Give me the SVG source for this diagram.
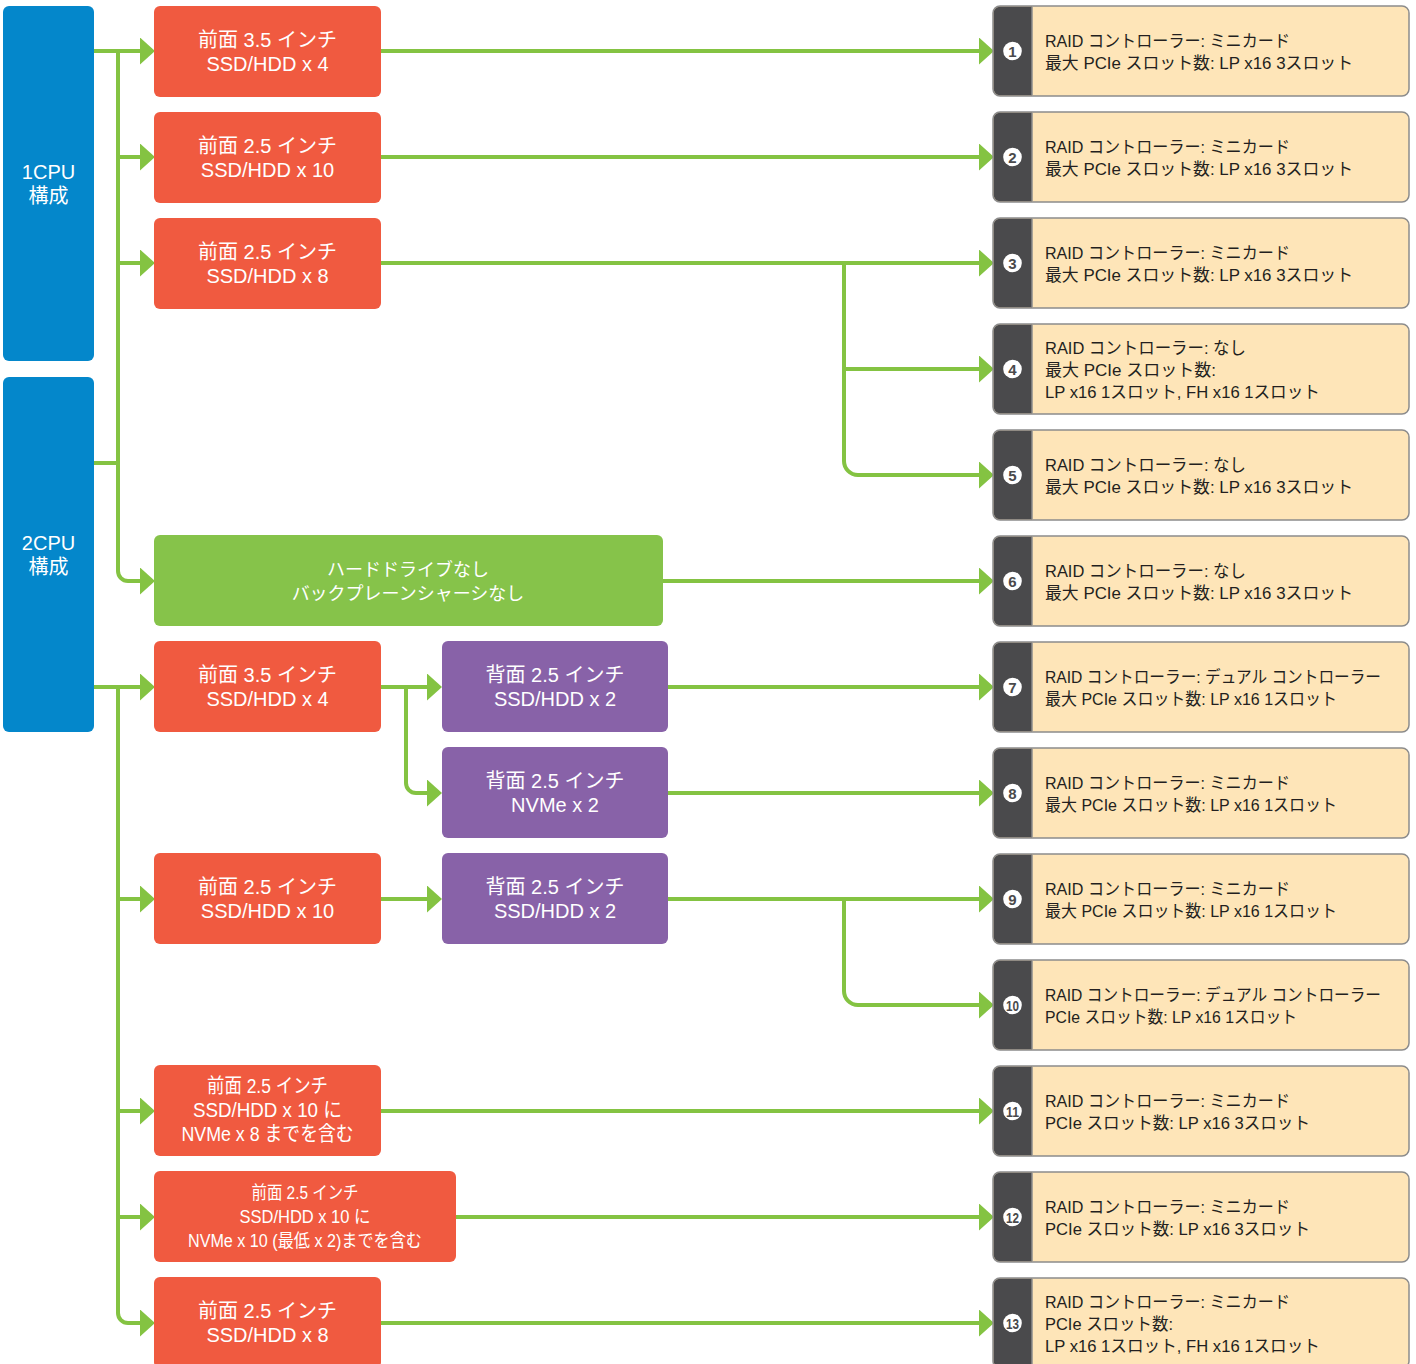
<svg xmlns="http://www.w3.org/2000/svg" width="1416" height="1364" viewBox="0 0 1416 1364">
<style>
.cpu{fill:#0487CB}
.fr{fill:#F05A40}
.bk{fill:#8862A8}
.gn{fill:#86C34A}
.t{font-family:"Liberation Sans","Noto Sans CJK JP",sans-serif;font-size:20px;fill:#FFFFFF;text-anchor:middle}
.tg{font-family:"Liberation Sans","Noto Sans CJK JP",sans-serif;font-size:18px;fill:#FFFFFF;text-anchor:middle}
.r{font-family:"Liberation Sans","Noto Sans CJK JP",sans-serif;font-size:17px;fill:#231F20}
.num{font-family:"Liberation Sans","Noto Sans CJK JP",sans-serif;font-size:15px;font-weight:bold;fill:#4A4A4C;text-anchor:middle}
.c{fill:none;stroke:#84C342;stroke-width:4}
.rb{fill:#FEE5B8;stroke:#8C8C8C;stroke-width:1.5}
.rd{fill:#4A4A4C}
.sep{stroke:#8C8C8C;stroke-width:1.5}
.dot{fill:#FFFFFF}
</style>
<defs>
<marker id="ah" viewBox="0 0 15 27" refX="0" refY="13.5" markerWidth="15" markerHeight="27" markerUnits="userSpaceOnUse" orient="auto">
<path d="M0,0 L15,13.5 L0,27 Z" fill="#84C342"/>
</marker>
<g id="res">
<rect class="rb" x="0" y="0" width="416" height="90" rx="7"/>
<path class="rd" d="M7,0.75 H39 V89.25 H7 A6.25,6.25 0 0 1 0.75,83 V7 A6.25,6.25 0 0 1 7,0.75 Z"/>
<line class="sep" x1="39" y1="0.75" x2="39" y2="89.25"/>
<circle class="dot" cx="19.5" cy="45" r="9.3"/>
</g>
</defs>

<g id="connectors">
<path class="c" d="M93,51 H140" marker-end="url(#ah)"/>
<path class="c" d="M118,51 V571 A10,10 0 0 0 128,581 H140" marker-end="url(#ah)"/>
<path class="c" d="M118,157 H140" marker-end="url(#ah)"/>
<path class="c" d="M118,263 H140" marker-end="url(#ah)"/>
<path class="c" d="M93,463 H118"/>
<path class="c" d="M381,51 H979" marker-end="url(#ah)"/>
<path class="c" d="M381,157 H979" marker-end="url(#ah)"/>
<path class="c" d="M381,263 H979" marker-end="url(#ah)"/>
<path class="c" d="M844,263 V461 A14,14 0 0 0 858,475 H979" marker-end="url(#ah)"/>
<path class="c" d="M844,369 H979" marker-end="url(#ah)"/>
<path class="c" d="M663,581 H979" marker-end="url(#ah)"/>
<path class="c" d="M93,687 H140" marker-end="url(#ah)"/>
<path class="c" d="M118,687 V1313 A10,10 0 0 0 128,1323 H140" marker-end="url(#ah)"/>
<path class="c" d="M118,899 H140" marker-end="url(#ah)"/>
<path class="c" d="M118,1111 H140" marker-end="url(#ah)"/>
<path class="c" d="M118,1217 H140" marker-end="url(#ah)"/>
<path class="c" d="M381,687 H427" marker-end="url(#ah)"/>
<path class="c" d="M406,687 V783 A10,10 0 0 0 416,793 H427" marker-end="url(#ah)"/>
<path class="c" d="M668,687 H979" marker-end="url(#ah)"/>
<path class="c" d="M668,793 H979" marker-end="url(#ah)"/>
<path class="c" d="M381,899 H427" marker-end="url(#ah)"/>
<path class="c" d="M668,899 H979" marker-end="url(#ah)"/>
<path class="c" d="M844,899 V991 A14,14 0 0 0 858,1005 H979" marker-end="url(#ah)"/>
<path class="c" d="M381,1111 H979" marker-end="url(#ah)"/>
<path class="c" d="M456,1217 H979" marker-end="url(#ah)"/>
<path class="c" d="M381,1323 H979" marker-end="url(#ah)"/>
</g>

<g id="cpu1"><rect class="cpu" x="3" y="6" width="91" height="355" rx="6"/>
<text class="t" x="48.5" y="179">1CPU</text><text class="t" x="48.5" y="203">構成</text></g>
<g id="cpu2"><rect class="cpu" x="3" y="377" width="91" height="355" rx="6"/>
<text class="t" x="48.5" y="550">2CPU</text><text class="t" x="48.5" y="574">構成</text></g>

<g id="f1"><rect class="fr" x="154" y="6" width="227" height="91" rx="6"/>
<text class="t" x="267.5" y="47">前面 3.5 インチ</text><text class="t" x="267.5" y="71">SSD/HDD x 4</text></g>
<g id="f2"><rect class="fr" x="154" y="112" width="227" height="91" rx="6"/>
<text class="t" x="267.5" y="153">前面 2.5 インチ</text><text class="t" x="267.5" y="177">SSD/HDD x 10</text></g>
<g id="f3"><rect class="fr" x="154" y="218" width="227" height="91" rx="6"/>
<text class="t" x="267.5" y="259">前面 2.5 インチ</text><text class="t" x="267.5" y="283">SSD/HDD x 8</text></g>
<g id="nodrive"><rect class="gn" x="154" y="535" width="509" height="91" rx="6"/>
<text class="tg" x="408" y="576">ハードドライブなし</text><text class="tg" x="408" y="600">バックプレーンシャーシなし</text></g>
<g id="f4"><rect class="fr" x="154" y="641" width="227" height="91" rx="6"/>
<text class="t" x="267.5" y="682">前面 3.5 インチ</text><text class="t" x="267.5" y="706">SSD/HDD x 4</text></g>
<g id="b1"><rect class="bk" x="442" y="641" width="226" height="91" rx="6"/>
<text class="t" x="555" y="682">背面 2.5 インチ</text><text class="t" x="555" y="706">SSD/HDD x 2</text></g>
<g id="b2"><rect class="bk" x="442" y="747" width="226" height="91" rx="6"/>
<text class="t" x="555" y="788">背面 2.5 インチ</text><text class="t" x="555" y="812">NVMe x 2</text></g>
<g id="f5"><rect class="fr" x="154" y="853" width="227" height="91" rx="6"/>
<text class="t" x="267.5" y="894">前面 2.5 インチ</text><text class="t" x="267.5" y="918">SSD/HDD x 10</text></g>
<g id="b3"><rect class="bk" x="442" y="853" width="226" height="91" rx="6"/>
<text class="t" x="555" y="894">背面 2.5 インチ</text><text class="t" x="555" y="918">SSD/HDD x 2</text></g>
<g id="f6"><rect class="fr" x="154" y="1065" width="227" height="91" rx="6"/>
<text class="t" x="267.5" y="1093" textLength="121" lengthAdjust="spacingAndGlyphs">前面 2.5 インチ</text>
<text class="t" x="267.5" y="1117" textLength="149" lengthAdjust="spacingAndGlyphs">SSD/HDD x 10 に</text>
<text class="t" x="267.5" y="1141" textLength="172" lengthAdjust="spacingAndGlyphs">NVMe x 8 までを含む</text></g>
<g id="f7"><rect class="fr" x="154" y="1171" width="302" height="91" rx="6"/>
<text class="tg" x="305" y="1199" textLength="107" lengthAdjust="spacingAndGlyphs">前面 2.5 インチ</text>
<text class="tg" x="305" y="1223" textLength="131" lengthAdjust="spacingAndGlyphs">SSD/HDD x 10 に</text>
<text class="tg" x="305" y="1247" textLength="234" lengthAdjust="spacingAndGlyphs">NVMe x 10 (最低 x 2)までを含む</text></g>
<g id="f8"><rect class="fr" x="154" y="1277" width="227" height="91" rx="6"/>
<text class="t" x="267.5" y="1318">前面 2.5 インチ</text><text class="t" x="267.5" y="1342">SSD/HDD x 8</text></g>

<g id="r1"><use href="#res" x="993" y="6"/><text class="num" x="1012.5" y="56.5">1</text>
<text class="r" x="1045" y="47" textLength="245" lengthAdjust="spacingAndGlyphs">RAID コントローラー: ミニカード</text><text class="r" x="1045" y="69" textLength="308" lengthAdjust="spacingAndGlyphs">最大 PCIe スロット数: LP x16 3スロット</text></g>
<g id="r2"><use href="#res" x="993" y="112"/><text class="num" x="1012.5" y="162.5">2</text>
<text class="r" x="1045" y="153" textLength="245" lengthAdjust="spacingAndGlyphs">RAID コントローラー: ミニカード</text><text class="r" x="1045" y="175" textLength="308" lengthAdjust="spacingAndGlyphs">最大 PCIe スロット数: LP x16 3スロット</text></g>
<g id="r3"><use href="#res" x="993" y="218"/><text class="num" x="1012.5" y="268.5">3</text>
<text class="r" x="1045" y="259" textLength="245" lengthAdjust="spacingAndGlyphs">RAID コントローラー: ミニカード</text><text class="r" x="1045" y="281" textLength="308" lengthAdjust="spacingAndGlyphs">最大 PCIe スロット数: LP x16 3スロット</text></g>
<g id="r4"><use href="#res" x="993" y="324"/><text class="num" x="1012.5" y="374.5">4</text>
<text class="r" x="1045" y="354" textLength="201" lengthAdjust="spacingAndGlyphs">RAID コントローラー: なし</text><text class="r" x="1045" y="376" textLength="171" lengthAdjust="spacingAndGlyphs">最大 PCIe スロット数:</text><text class="r" x="1045" y="398" textLength="275" lengthAdjust="spacingAndGlyphs">LP x16 1スロット, FH x16 1スロット</text></g>
<g id="r5"><use href="#res" x="993" y="430"/><text class="num" x="1012.5" y="480.5">5</text>
<text class="r" x="1045" y="471" textLength="201" lengthAdjust="spacingAndGlyphs">RAID コントローラー: なし</text><text class="r" x="1045" y="493" textLength="308" lengthAdjust="spacingAndGlyphs">最大 PCIe スロット数: LP x16 3スロット</text></g>
<g id="r6"><use href="#res" x="993" y="536"/><text class="num" x="1012.5" y="586.5">6</text>
<text class="r" x="1045" y="577" textLength="201" lengthAdjust="spacingAndGlyphs">RAID コントローラー: なし</text><text class="r" x="1045" y="599" textLength="308" lengthAdjust="spacingAndGlyphs">最大 PCIe スロット数: LP x16 3スロット</text></g>
<g id="r7"><use href="#res" x="993" y="642"/><text class="num" x="1012.5" y="692.5">7</text>
<text class="r" x="1045" y="683" textLength="336" lengthAdjust="spacingAndGlyphs">RAID コントローラー: デュアル コントローラー</text><text class="r" x="1045" y="705" textLength="292" lengthAdjust="spacingAndGlyphs">最大 PCIe スロット数: LP x16 1スロット</text></g>
<g id="r8"><use href="#res" x="993" y="748"/><text class="num" x="1012.5" y="798.5">8</text>
<text class="r" x="1045" y="789" textLength="245" lengthAdjust="spacingAndGlyphs">RAID コントローラー: ミニカード</text><text class="r" x="1045" y="811" textLength="292" lengthAdjust="spacingAndGlyphs">最大 PCIe スロット数: LP x16 1スロット</text></g>
<g id="r9"><use href="#res" x="993" y="854"/><text class="num" x="1012.5" y="904.5">9</text>
<text class="r" x="1045" y="895" textLength="245" lengthAdjust="spacingAndGlyphs">RAID コントローラー: ミニカード</text><text class="r" x="1045" y="917" textLength="292" lengthAdjust="spacingAndGlyphs">最大 PCIe スロット数: LP x16 1スロット</text></g>
<g id="r10"><use href="#res" x="993" y="960"/><text class="num" x="1012.5" y="1010.5" textLength="13" lengthAdjust="spacingAndGlyphs">10</text>
<text class="r" x="1045" y="1001" textLength="336" lengthAdjust="spacingAndGlyphs">RAID コントローラー: デュアル コントローラー</text><text class="r" x="1045" y="1023" textLength="252" lengthAdjust="spacingAndGlyphs">PCIe スロット数: LP x16 1スロット</text></g>
<g id="r11"><use href="#res" x="993" y="1066"/><text class="num" x="1012.5" y="1116.5" textLength="13" lengthAdjust="spacingAndGlyphs">11</text>
<text class="r" x="1045" y="1107" textLength="245" lengthAdjust="spacingAndGlyphs">RAID コントローラー: ミニカード</text><text class="r" x="1045" y="1129" textLength="265" lengthAdjust="spacingAndGlyphs">PCIe スロット数: LP x16 3スロット</text></g>
<g id="r12"><use href="#res" x="993" y="1172"/><text class="num" x="1012.5" y="1222.5" textLength="13" lengthAdjust="spacingAndGlyphs">12</text>
<text class="r" x="1045" y="1213" textLength="245" lengthAdjust="spacingAndGlyphs">RAID コントローラー: ミニカード</text><text class="r" x="1045" y="1235" textLength="265" lengthAdjust="spacingAndGlyphs">PCIe スロット数: LP x16 3スロット</text></g>
<g id="r13"><use href="#res" x="993" y="1278"/><text class="num" x="1012.5" y="1328.5" textLength="13" lengthAdjust="spacingAndGlyphs">13</text>
<text class="r" x="1045" y="1308" textLength="245" lengthAdjust="spacingAndGlyphs">RAID コントローラー: ミニカード</text><text class="r" x="1045" y="1330" textLength="128" lengthAdjust="spacingAndGlyphs">PCIe スロット数:</text><text class="r" x="1045" y="1352" textLength="275" lengthAdjust="spacingAndGlyphs">LP x16 1スロット, FH x16 1スロット</text></g>
</svg>
